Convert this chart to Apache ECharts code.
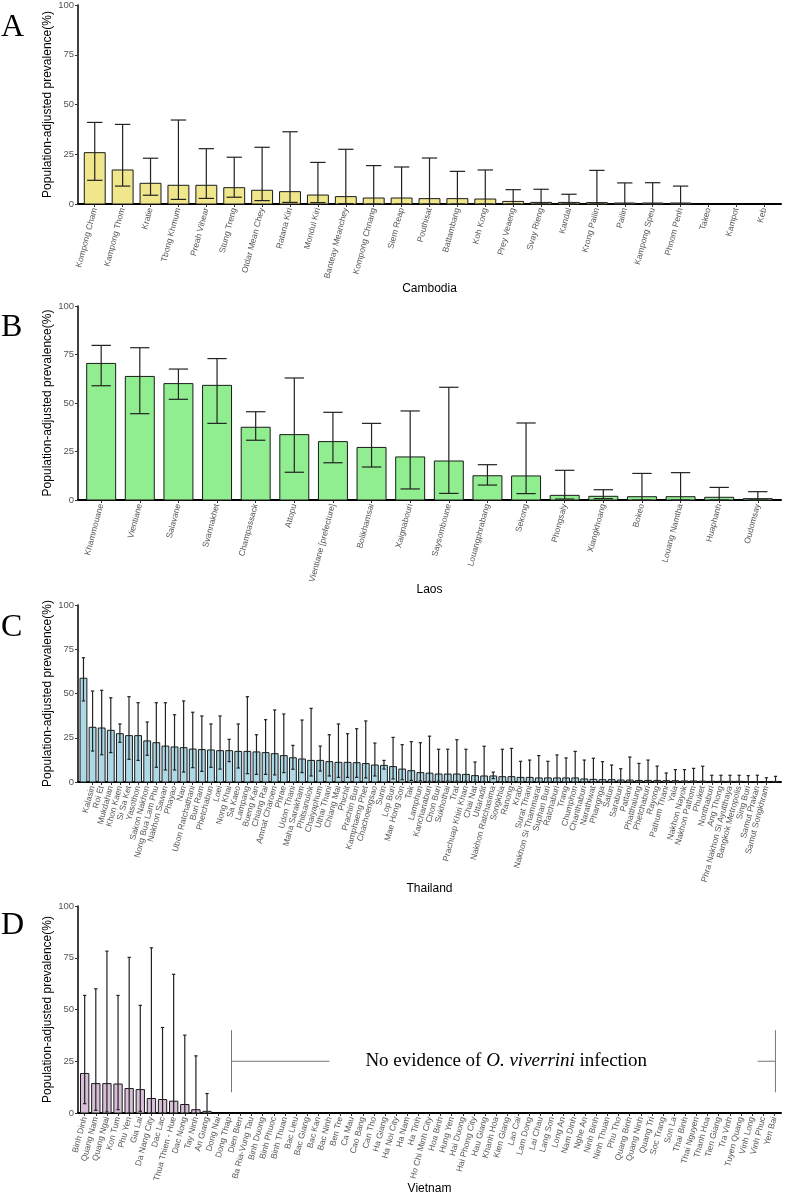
<!DOCTYPE html>
<html><head><meta charset="utf-8">
<script src="https://cdn.jsdelivr.net/npm/echarts@6/dist/echarts.min.js"></script>
<style>html,body{margin:0;padding:0;background:#fff}#c{width:786px;height:1197px}</style>
</head><body><div id="c"></div>
<script>
// ---------------- DATA ----------------
const yTicks = [0, 25, 50, 75, 100];

const cambodiaNames = ['Kompong Cham','Kampong Thom','Kratie','Tbong Khmum','Preah Vihear','Stung Treng','Otdar Mean Chey','Ratana Kiri','Mondul Kiri','Banteay Meanchey','Kompong Chnang','Siem Reap','Pouthisat','Battambang','Koh Kong','Prey Veaeng','Svay Rieng','Kandal','Krong Pailin','Pailin','Kampong Speu','Phnom Penh','Takeo','Kampot','Keb'];
const cambodiaVal  = [25.8,17.1,10.4,9.4,9.4,8.2,6.9,6.2,4.5,3.7,3.0,3.0,2.7,2.7,2.5,1.3,0.8,0.8,0.7,0.5,0.5,0.5,0,0,0];
const cambodiaLow  = [11.9,9.0,4.4,2.3,2.8,3.4,1.7,0.8,0.7,0.2,0,0,0,0,0,0,0,0,0,0,0,0,0,0,0];
const cambodiaHigh = [41.0,40.0,23.0,42.2,27.8,23.5,28.5,36.3,20.9,27.5,19.3,18.6,23.1,16.4,17.1,7.2,7.4,4.9,16.9,10.6,10.7,9.0,0,0,0];

const laosNames = ['Khammouane','Vientiane','Salavane','Svannakhet','Champassack','Attopu','Vientiane [prefecture]','Bolikhamsai','Xaignabouri','Saysomboune','Louangphrabang','Sekong','Phongsaly','Xiangkhoang','Bokeo','Louang Namtha','Huaphanh','Oudomsay'];
const laosVal  = [70.4,63.7,60.0,59.1,37.5,33.7,30.1,27.1,22.2,20.1,12.5,12.4,2.4,1.9,1.7,1.7,1.4,0.7];
const laosLow  = [58.9,44.5,51.9,39.5,30.8,14.3,19.2,17.0,5.7,3.4,7.7,3.3,0.5,0.7,0,0,0,0];
const laosHigh = [79.7,78.5,67.5,72.9,45.5,62.9,45.2,39.5,45.9,58.1,18.2,39.7,15.3,5.3,13.7,14.1,6.5,4.3];

const thailandNames = ['Nakhon Phanom','Kalasin','Roi Et','Mukdahan','Khon Kaen','Si Sa Ket','Yasothon','Sakon Nakhon','Nong Bua Lam Phu','Nakhon Sawan','Phayao','Nan','Ubon Ratchathani','Buri Ram','Phetchabun','Loei','Nong Khai','Sa Kaeo','Lampang','Bueng Kan','Chiang Rai','Amnat Charoen','Phrae','Udon Thani','Maha Sarakham','Phitsanulok','Chaiyaphum','Uthai Thani','Chiang Mai','Phichit','Prachin Buri','Kamphaeng Phet','Chachoengsao','Surin','Lop Buri','Mae Hong Son','Tak','Lamphun','Kanchanaburi','Chon Buri','Sukhothai','Trat','Prachuap Khiri Khan','Chai Nat','Uttaradit','Nakhon Ratchasima','Songkhla','Ranong','Krabi','Surat Thani','Nakhon Si Thammarat','Suphan Buri','Ratchaburi','Trang','Chumphon','Chanthaburi','Narathiwat','Phangnga','Satun','Saraburi','Pattani','Phatthalung','Phetchaburi','Rayong','Pathum Thani','Yala','Nakhon Nayok','Nakhon Pathom','Phuket','Nonthaburi','Ang Thong','Phra Nakhon Si Ayutthaya','Bangkok Metropolis','Sing Buri','Samut Prakan','Samut Songkhram','Samut Sakhon'];
const thailandVal  = [58.6,30.9,30.5,29.2,27.3,26.2,26.2,23.2,22.2,20.3,19.8,19.4,18.6,18.3,18.1,17.7,17.7,17.3,17.3,17.0,16.6,16.0,14.9,13.7,13.0,12.2,12.2,11.5,11.1,11.1,10.9,10.4,9.6,9.4,8.7,7.3,6.4,5.3,5.0,4.5,4.5,4.5,4.3,3.6,3.4,3.4,3.0,3.0,2.6,2.6,2.3,2.3,2.3,2.3,2.3,1.7,1.5,1.3,1.3,1.1,1.1,0.9,0.9,0.9,0.75,0.75,0.6,0.6,0.5,0.4,0.4,0.4,0.4,0.3,0.3,0.3,0.3];
const thailandLow  = [45.8,17.5,15.4,16.6,22.4,12.8,12.2,15.1,8.3,6.8,6.8,5.6,8.1,6.0,8.3,7.3,11.5,7.9,4.7,4.3,4.3,4.0,5.3,7.2,5.3,3.4,6.2,3.4,2.6,2.6,2.6,2.3,3.4,7.3,1.7,1.3,0.9,0.6,0.4,0.5,0.5,0.4,0.4,0.3,0.2,1.9,0.2,0.2,0.1,0.1,0.1,0.1,0.1,0.1,0.1,0.1,0.1,0,0,0,0,0,0,0,0,0,0,0,0,0,0,0,0,0,0,0,0];
const thailandHigh = [70.2,51.4,51.8,47.6,32.8,48.2,44.8,33.9,44.8,44.8,38.0,45.8,39.4,37.3,32.8,37.3,24.1,32.8,48.2,26.7,35.2,40.7,38.4,20.7,35.0,41.6,20.3,26.7,32.8,27.3,30.1,34.5,22.0,12.2,25.2,21.1,22.8,22.2,25.9,18.5,18.5,23.9,18.5,11.3,20.2,5.6,18.5,19.0,11.7,12.4,14.9,11.7,15.3,13.6,17.3,12.4,13.4,11.5,9.6,7.5,14.1,10.5,12.4,9.0,5.1,7.0,7.0,7.7,8.9,3.8,3.8,3.8,3.8,3.6,3.8,2.4,3.2];

const vietnamNames = ['Binh Dinh','Quang Nam','Quang Ngai','Kon Tum','Phu Yen','Gia Lai','Da Nang City','Dac Lac','Thua Thien - Hue','Dac Nong','Tay Ninh','An Giang','Dong Nai','Dong Thap','Dien Bien','Ba Ria-Vung Tau','Binh Duong','Binh Phuoc','Binh Thuan','Bac Lieu','Bac Giang','Bac Kan','Bac Ninh','Ben Tre','Ca Mau','Cao Bang','Can Tho','Ha Giang','Ha Noi City','Ha Nam','Ha Tinh','Ho Chi Minh City','Hoa Binh','Hung Yen','Hai Duong','Hai Phong City','Hau Giang','Khanh Hoa','Kien Giang','Lao Cai','Lam Dong','Lai Chau','Lang Son','Long An','Nam Dinh','Nghe An','Ninh Binh','Ninh Thuan','Phu Tho','Quang Binh','Quang Ninh','Quang Tri','Soc Trang','Son La','Thai Binh','Thai Nguyen','Thanh Hoa','Tien Giang','Tra Vinh','Tuyen Quang','Vinh Long','Vinh Phuc','Yen Bai'];
const vietnamVal  = [19.1,14.2,14.2,14.0,11.8,11.3,7.0,6.5,5.7,4.1,1.6,0.8].concat(new Array(51).fill(0));
const vietnamLow  = [4.5,1.3,0.5,1.6,0,0.8,0,0,0,0,0,0].concat(new Array(51).fill(0));
const vietnamHigh = [56.8,60.0,78.2,56.8,75.2,52.0,79.8,41.3,67.0,37.6,27.6,9.4].concat(new Array(51).fill(0));

// annotation (panel D): bracket drawn on the axis scales
const noteText = ['No evidence of ', 'O. viverrini', ' infection'];
const bracketX = [14.2, 23.0, 61.5, 63.1];   // x positions (category units)
const bracketY = [10, 25, 40];              // y values (low, mid, high)
const noteX = 38.9;

// ---------------- LAYOUT ----------------
const panels = [
  {letter:'A', names:cambodiaNames, val:cambodiaVal, lo:cambodiaLow, hi:cambodiaHigh, color:'#F0E68C', title:'Cambodia', top:5,   zero:204,  cap:0.55, gap:79,  letterY:12},
  {letter:'B', names:laosNames,     val:laosVal,     lo:laosLow,     hi:laosHigh,     color:'#90EE90', title:'Laos',     top:306, zero:500,  cap:0.5,  gap:84,  letterY:312},
  {letter:'C', names:thailandNames, val:thailandVal, lo:thailandLow, hi:thailandHigh, color:'#ADD8E6', title:'Thailand', top:605, zero:782,  cap:0.36, gap:101, letterY:612},
  {letter:'D', names:vietnamNames,  val:vietnamVal,  lo:vietnamLow,  hi:vietnamHigh,  color:'#D8BFD8', title:'Vietnam',  top:906, zero:1113, cap:0.3,  gap:70,  letterY:910}
];
const LEFT = 78, RIGHT_EDGE = 781;
const sans = "'Liberation Sans', Arial, sans-serif";
const serif = "'Liberation Serif', 'Times New Roman', serif";

const grid = [], xAxis = [], yAxis = [], series = [], graphic = [];
panels.forEach((p, k) => {
  const n = p.names.length;
  const idx = p.names.map((_, i) => i + 1);
  grid.push({left: LEFT, top: p.top, width: RIGHT_EDGE - LEFT, height: p.zero - p.top, containLabel: false});
  xAxis.push({
    type: 'value', gridIndex: k, min: 0.4, max: n + 0.6,
    name: p.title, nameLocation: 'middle', nameGap: p.gap, nameMoveOverlap: false,
    nameTextStyle: {fontFamily: sans, fontSize: 12, color: '#000'},
    axisLine: {show: true, onZero: false, lineStyle: {color: '#000', width: 2}},
    axisTick: {show: true, customValues: idx, length: 3, lineStyle: {color: '#333', width: 1}},
    axisLabel: {customValues: idx, rotate: 75, fontFamily: sans, fontSize: 8.5, color: '#555', margin: 4,
      formatter: v => p.names[Math.round(v) - 1] || ''},
    splitLine: {show: false}
  });
  yAxis.push({
    type: 'value', gridIndex: k, min: yTicks[0], max: yTicks[yTicks.length - 1], interval: 25,
    name: 'Population-adjusted prevalence(%)', nameLocation: 'middle', nameGap: 24, nameMoveOverlap: false,
    nameTextStyle: {fontFamily: sans, fontSize: 12, color: '#000'},
    axisLine: {show: true, lineStyle: {color: '#000', width: 1.5}},
    axisTick: {show: true, length: 3, lineStyle: {color: '#333'}},
    axisLabel: {fontFamily: sans, fontSize: 9.5, color: '#555', margin: 4},
    splitLine: {show: false}
  });
  const data = p.names.map((nm, i) => [i + 1, p.val[i], p.lo[i], p.hi[i]]);
  series.push({
    type: 'custom', xAxisIndex: k, yAxisIndex: k, data, z: 2,
    renderItem: (params, api) => {
      const x = api.value(0), v = api.value(1);
      if (!(v > 0)) return null;
      const a = api.coord([x - 0.375, v]), b = api.coord([x + 0.375, 0]);
      return {type: 'rect', shape: {x: a[0], y: a[1], width: b[0] - a[0], height: b[1] - a[1]},
        style: {fill: p.color, stroke: '#1a1a1a', lineWidth: 1}};
    }
  });
  series.push({
    type: 'custom', xAxisIndex: k, yAxisIndex: k, data, z: 3,
    renderItem: (params, api) => {
      const x = api.value(0), lo = api.value(2), hi = api.value(3);
      if (!(hi > 0)) return null;
      const c = p.cap / 2;
      const t = api.coord([x, hi]), bt = api.coord([x, lo]);
      const l1 = api.coord([x - c, hi]), r1 = api.coord([x + c, hi]);
      const l2 = api.coord([x - c, lo]), r2 = api.coord([x + c, lo]);
      const st = {stroke: '#222', lineWidth: 1.2};
      return {type: 'group', children: [
        {type: 'line', shape: {x1: t[0], y1: t[1], x2: bt[0], y2: bt[1]}, style: st},
        {type: 'line', shape: {x1: l1[0], y1: l1[1], x2: r1[0], y2: r1[1]}, style: st},
        {type: 'line', shape: {x1: l2[0], y1: l2[1], x2: r2[0], y2: r2[1]}, style: st}
      ]};
    }
  });
  graphic.push({type: 'text', left: 1, top: p.letterY,
    style: {text: p.letter, font: 'normal 32px ' + serif, fill: '#000'}});
});

// annotation series on panel D
series.push({
  type: 'custom', xAxisIndex: 3, yAxisIndex: 3, data: [[noteX, bracketY[1]]], z: 4,
  renderItem: (params, api) => {
    const st = {stroke: '#777', lineWidth: 1};
    const L = (x1, y1, x2, y2) => {
      const a = api.coord([x1, y1]), b = api.coord([x2, y2]);
      return {type: 'line', shape: {x1: a[0], y1: a[1], x2: b[0], y2: b[1]}, style: st};
    };
    const c = api.coord([noteX, bracketY[1]]);
    return {type: 'group', children: [
      L(bracketX[0], bracketY[0], bracketX[0], bracketY[2]),
      L(bracketX[0], bracketY[1], bracketX[1], bracketY[1]),
      L(bracketX[2], bracketY[1], bracketX[3], bracketY[1]),
      L(bracketX[3], bracketY[0], bracketX[3], bracketY[2]),
      {type: 'text', x: c[0], y: c[1], style: {
        text: '{a|' + noteText[0] + '}{b|' + noteText[1] + '}{a|' + noteText[2] + '}',
        align: 'center', verticalAlign: 'middle',
        rich: {a: {fontFamily: serif, fontSize: 19, fill: '#000'},
               b: {fontFamily: serif, fontSize: 19, fontStyle: 'italic', fill: '#000'}}
      }}
    ]};
  }
});

const chart = echarts.init(document.getElementById('c'), null, {renderer: 'canvas'});
chart.setOption({animation: false, backgroundColor: '#fff', grid, xAxis, yAxis, series, graphic});
</script>
</body></html>
